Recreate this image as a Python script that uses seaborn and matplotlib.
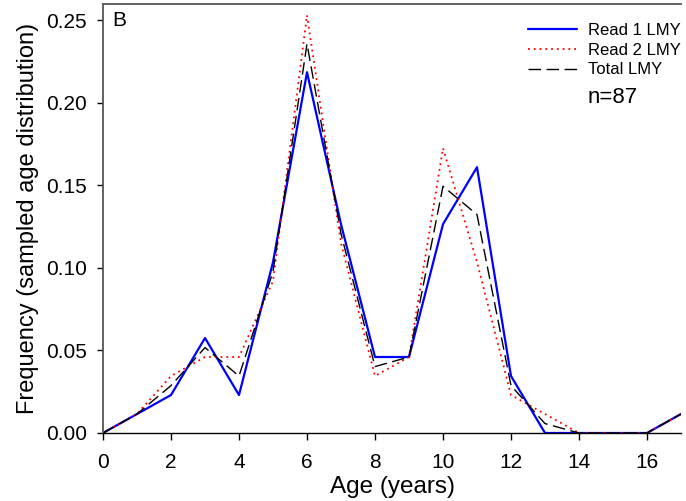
import numpy as np
import pandas as pd
import matplotlib.pyplot as plt
import seaborn as sns

ages = list(range(0, 18))
read1 = [0.0, 0.0115, 0.0230, 0.0575, 0.0230, 0.1034, 0.2184, 0.1264, 0.0460,
         0.0460, 0.1264, 0.1609, 0.0345, 0.0, 0.0, 0.0, 0.0, 0.0115]
read2 = [0.0, 0.0115, 0.0345, 0.0460, 0.0460, 0.0920, 0.2529, 0.1149, 0.0345,
         0.0460, 0.1724, 0.1034, 0.0230, 0.0115, 0.0, 0.0, 0.0, 0.0115]
total = [0.0, 0.0115, 0.0287, 0.0517, 0.0345, 0.0977, 0.2356, 0.1207, 0.0402,
         0.0460, 0.1494, 0.1322, 0.0287, 0.0057, 0.0, 0.0, 0.0, 0.0115]

sns.set_style('white')
plt.rcParams['font.family'] = ['Liberation Sans', 'DejaVu Sans']
plt.rcParams['text.color'] = 'black'
plt.rcParams['axes.labelcolor'] = 'black'
plt.rcParams['xtick.color'] = 'black'
plt.rcParams['ytick.color'] = 'black'

fig = plt.figure(figsize=(6.86, 5.01), dpi=100)
ax = fig.add_axes([103/686, 68/501, 578/686, 429.5/501])

sns.lineplot(x=ages, y=read1, color='#0000ff', lw=1.6, label='Read 1 LMY', ax=ax)
sns.lineplot(x=ages, y=read2, color='#ff0000', lw=1.3, linestyle=(0, (1, 2.2)), label='Read 2 LMY', ax=ax)
sns.lineplot(x=ages, y=total, color='black', lw=1.0, linestyle=(0, (9, 4)), label='Total LMY', ax=ax)

ax.set_xlim(0, 17)
ax.set_ylim(0, 0.26)
ax.set_xticks(range(0, 17, 2))
ax.set_yticks([0, 0.05, 0.10, 0.15, 0.20, 0.25])
ax.set_yticklabels(['0.00', '0.05', '0.10', '0.15', '0.20', '0.25'])
ax.tick_params(axis='x', direction='out', length=5, width=1, labelsize=15,
               bottom=True, pad=9.5)
ax.tick_params(axis='y', direction='out', length=4.5, width=1, labelsize=15,
               left=True, pad=7)
ax.set_xlabel('Age (years)', fontsize=17.5, labelpad=3)
ax.set_ylabel('Frequency (sampled age distribution)', fontsize=17, labelpad=5)

ax.spines['right'].set_visible(False)
for s in ['left', 'top']:
    ax.spines[s].set_color('#555555')
    ax.spines[s].set_linewidth(1.3)
ax.spines['bottom'].set_color('black')
ax.spines['bottom'].set_linewidth(1.0)

leg = ax.legend(loc='upper right', bbox_to_anchor=(1.0, 0.955), frameon=False,
                fontsize=12, handlelength=2.95, handletextpad=0.66, labelspacing=0.29,
                borderpad=0, borderaxespad=0)
ax.text(0.839, 0.782, 'n=87', transform=ax.transAxes, fontsize=16, va='center')
ax.text(0.0156, 0.960, 'B', transform=ax.transAxes, fontsize=15, va='center')

fig.savefig('out.png', dpi=100)
